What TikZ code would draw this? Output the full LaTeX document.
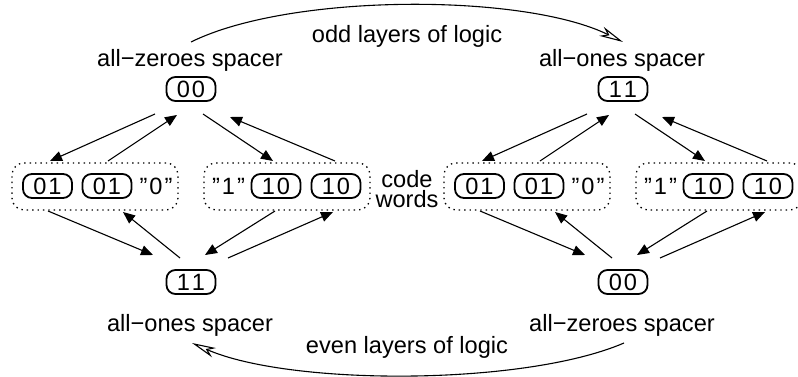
\documentclass[tikz,border=0pt]{standalone}
\usepackage{fontspec}
\setmainfont{Liberation Sans}
\usetikzlibrary{arrows.meta}

\tikzset{
  every node/.style={font=\fontsize{23.6}{20}\selectfont, inner sep=0pt},
  word/.style={draw, line width=1.8pt, rounded corners=9pt,
    minimum width=49pt, minimum height=24pt},
  group/.style={draw, line width=1.3pt, dash pattern=on 1.4pt off 4pt,
    rounded corners=12pt, minimum width=166pt, minimum height=47pt},
  lbl/.style={anchor=base},
  flow/.style={line width=1.1pt, -{Triangle[length=12pt,width=10pt]}},
  layer/.style={line width=1.1pt, -{Stealth[open,length=24pt,width=10pt,inset=7pt]}}
}

% two-digit code value, spaced as in the boxes
\newcommand\bits[2]{#1\kern2pt#2}
% quoted logic value
\newcommand\qval[1]{"\kern2pt#1\kern2pt"}

% One half of the handshake: spacer on top, code-word groups, spacer below.
% #1 top spacer value, #2 top label, #3 bottom spacer value, #4 bottom label
\newcommand\handshakehalf[4]{%
  \node[word] (top) at (191,89) {#1};
  \node[lbl] (toplbl) at (190,67) {#2};
  \node[word] (bot) at (191,282) {#3};
  \node[lbl] (botlbl) at (190,331) {#4};
  % code-word groups
  \node[group] (g0) at (95,186.5) {};
  \node[group] (g1) at (287,186.5) {};
  \node[word] (w01a) at (47.5,186) {\bits01};
  \node[word] (w01b) at (107,186) {\bits01};
  \node (zero) at (156,186) {\qval0};
  \node (one) at (228.5,186) {\qval1};
  \node[word] (w10a) at (276,186) {\bits10};
  \node[word] (w10b) at (336,186) {\bits10};
  % arrow end points
  \coordinate (to1) at (155,114);  \coordinate (go1) at (50,161);
  \coordinate (gi1) at (108,161);  \coordinate (ti1) at (177,115);
  \coordinate (to2) at (203,114);  \coordinate (go2) at (273,161);
  \coordinate (gi2) at (335,161);  \coordinate (ti2) at (230,117);
  \coordinate (ho1) at (48,211);   \coordinate (bi1) at (153,255);
  \coordinate (bo1) at (180,258);  \coordinate (hi1) at (123,212);
  \coordinate (ho2) at (275,211);  \coordinate (bi2) at (205,255);
  \coordinate (bo2) at (228,258);  \coordinate (hi2) at (333,212);
  \draw[flow] (to1) -- (go1);
  \draw[flow] (gi1) -- (ti1);
  \draw[flow] (to2) -- (go2);
  \draw[flow] (gi2) -- (ti2);
  \draw[flow] (ho1) -- (bi1);
  \draw[flow] (bo1) -- (hi1);
  \draw[flow] (ho2) -- (bi2);
  \draw[flow] (bo2) -- (hi2);
  % ends of the layer arcs
  \coordinate (arctop) at (191,42);
  \coordinate (arcbot) at (192,343);
}

\begin{document}
\begin{tikzpicture}[x=1pt, y=-1pt]
  \useasboundingbox (0,0) rectangle (798,377);

  \begin{scope}[name prefix=L-]
    \handshakehalf{\bits00}{all−zeroes spacer}{\bits11}{all−ones spacer}
  \end{scope}
  \begin{scope}[xshift=432pt, name prefix=R-]
    \handshakehalf{\bits11}{all−ones spacer}{\bits00}{all−zeroes spacer}
  \end{scope}

  \node[align=center, anchor=base] (codewords) at (407,207) {code\\words};

  \node[lbl] (odd) at (407,43) {odd layers of logic};
  \node[lbl] (even) at (407,353) {even layers of logic};

  \draw[layer] (L-arctop) .. controls (290,-7) and (524,-7) .. (R-arctop);
  \draw[layer] (R-arcbot) .. controls (524,386) and (290,386) .. (L-arcbot);
\end{tikzpicture}
\end{document}
